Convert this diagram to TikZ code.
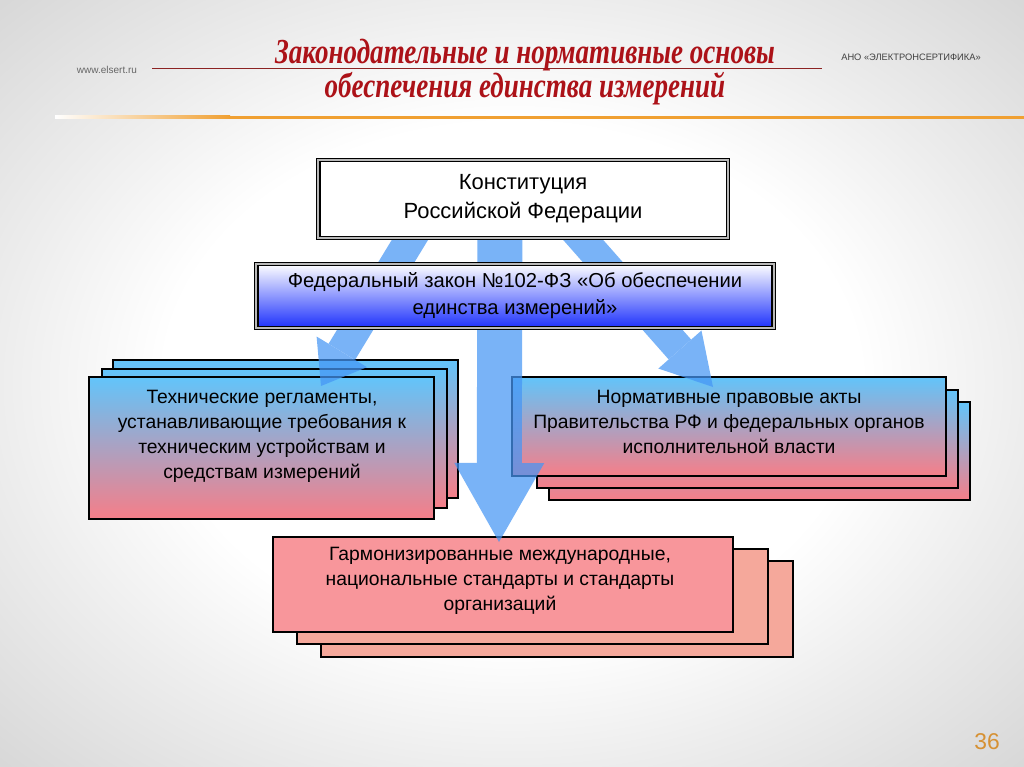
\documentclass[tikz,border=0pt]{standalone}
\usepackage{fontspec}
\setmainfont{Liberation Sans}
\newfontfamily\titlefont[FakeStretch=0.77]{Liberation Serif}
\usetikzlibrary{arrows.meta}
\definecolor{skyblu}{RGB}{98,196,250}
\definecolor{rosepink}{RGB}{246,126,136}
\definecolor{lawblue}{RGB}{28,48,252}
\definecolor{pinkfill}{RGB}{248,150,155}
\definecolor{backsalmon}{RGB}{245,168,155}
\definecolor{arrowblue}{RGB}{70,150,245}
\definecolor{titlered}{RGB}{172,18,24}
\definecolor{rulered}{RGB}{140,35,35}
\definecolor{ruleorange}{RGB}{240,160,50}
\definecolor{pagenum}{RGB}{214,145,52}
\pgfdeclareradialshading{vignette}{\pgfpoint{0bp}{0bp}}{color(0bp)=(white); color(17bp)=(white); color(25bp)=(black!7); color(36bp)=(black!16); color(50bp)=(black!16)}
\begin{document}
\begin{tikzpicture}
[x=0.02cm, y=-0.02cm,
  constbox/.style={draw=black, double=gray!55, double distance=0.8pt, line width=1pt, fill=white, inner sep=0pt},%
  lawbox/.style={constbox, top color=white, bottom color=lawblue},%
  stackbox/.style={draw=black, line width=1.3pt, inner sep=0pt, top color=skyblu, bottom color=rosepink},%
  pinkbox/.style={draw=black, line width=1.3pt, inner sep=0pt, fill=pinkfill},%
  backpink/.style={pinkbox, fill=backsalmon},%
  txt/.style={align=center, inner sep=0pt, font=\fontsize{11}{14.2}\selectfont},%
  blockarrow/.style={color=arrowblue, line cap=butt}]
\useasboundingbox (0,0) rectangle (1024,767);
%% background and header
\shade[shading=vignette] (0,0) rectangle (1024,767);
\draw[rulered, line width=0.6pt] (152,68.5) -- (822,68.5);
\shade[left color=white, right color=ruleorange] (55,116) rectangle (230,118.5);
\draw[ruleorange, line width=1.7pt] (229,117.25) -- (1024,117.25);
\node (title) at (525,72) [align=center, text=titlered,
  font={\titlefont\fontsize{20}{16.5}\selectfont\bfseries\itshape}]
  {Законодательные и нормативные основы\\обеспечения единства измерений};
\node (site) at (107,70) [font=\fontsize{5.7}{7}\selectfont, text=black!60] {www.elsert.ru};
\node (ano) at (911,57) [font=\fontsize{5.3}{7}\selectfont, text=black!75] {АНО «ЭЛЕКТРОНСЕРТИФИКА»};
\node (page) at (987,742) [font=\fontsize{13}{15}\selectfont, text=pagenum] {36};
%% stacked layers behind the boxes
\foreach \name/\x/\y/\w/\h in {techC/285.5/429/6.9/2.76, techB/274.5/438.5/6.9/2.78,
  actsC/759.5/451/8.42/1.96, actsB/747.5/439/8.42/1.96} {
  \node (\name) at (\x,\y) [stackbox, minimum width=\w cm, minimum height=\h cm] {};
}
\foreach \name/\x/\y/\w/\h in {stdC/557/609/9.44/1.92, stdB/532.5/596.5/9.42/1.9} {
  \node (\name) at (\x,\y) [backpink, minimum width=\w cm, minimum height=\h cm] {};
}
%% front boxes
\node (tech) at (261.5,448) [stackbox, minimum width=6.9cm, minimum height=2.84cm] {};
\node (acts) at (729,426.5) [stackbox, minimum width=8.68cm, minimum height=1.98cm] {};
\node (std) at (503,584.5) [pinkbox, minimum width=9.2cm, minimum height=1.9cm] {};
\node (techtxt) at (262,436) [txt] {Технические регламенты,\\устанавливающие требования к\\техническим устройствам и\\средствам измерений};
\node (actstxt) at (729,422) [txt] {Нормативные правовые акты\\Правительства РФ и федеральных органов\\исполнительной власти};
\node (stdtxt) at (500,581) [txt] {Гармонизированные международные,\\национальные стандарты и стандарты\\организаций};
%% arrows
\coordinate (lstart) at (419,225);
\coordinate (ltip) at (321,386);
\coordinate (mstart) at (500,225);
\coordinate (mtip) at (499,542);
\coordinate (rstart) at (570,225);
\coordinate (rtip) at (713,387);
\begin{scope}[transparency group, opacity=0.72]
\draw[blockarrow, line width=0.62cm, -{Triangle[width=1.18cm, length=0.8cm, line width=0pt]}] (lstart) -- (ltip);
\draw[blockarrow, line width=0.9cm, -{Triangle[width=1.8cm, length=1.58cm, line width=0pt]}] (mstart) -- (mtip);
\draw[blockarrow, line width=0.6cm, -{Triangle[width=1.15cm, length=1.0cm, line width=0pt]}] (rstart) -- (rtip);
\end{scope}
%% constitution and federal law
\node (const) at (523,199) [constbox, minimum width=8.2cm, minimum height=1.56cm,
  align=center, font=\fontsize{12.5}{16.5}\selectfont] {Конституция\\Российской Федерации};
\node (law) at (515,296) [lawbox, minimum width=10.36cm, minimum height=1.28cm,
  align=center, font=\fontsize{11.5}{15.4}\selectfont] {Федеральный закон №102-ФЗ «Об обеспечении\\единства измерений»};
\end{tikzpicture}
\end{document}
